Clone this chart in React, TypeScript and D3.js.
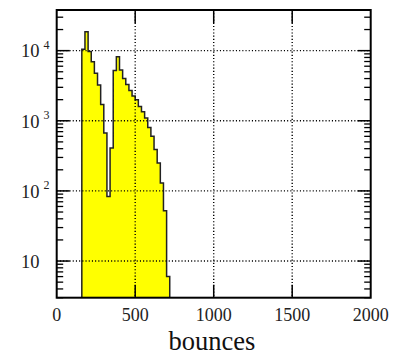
import React from "react";
import * as d3 from "d3";

// Histogram bins (lower edges, width 20) and counts
const binLows = [160, 180, 200, 220, 240, 260, 280, 300, 320, 340, 360, 380, 400, 420, 440, 460, 480, 500, 520, 540, 560, 580, 600, 620, 640, 660, 680, 700];
const counts = [10500, 18600, 9700, 6950, 4770, 3240, 1700, 670, 83, 410, 5200, 8200, 5300, 4000, 3300, 2700, 2250, 2000, 1600, 1350, 1100, 800, 600, 390, 250, 130, 52, 6];
const binWidth = 20;
const xTicks = [0, 500, 1000, 1500, 2000];
const yMajor = [10, 100, 1000, 10000];
const yLabelExp = ["", "2", "3", "4"];
const xTitle = "bounces";

const W = 402, H = 356;
const L = 56.7, R = 370.7, T = 10, B = 297.7;

export default function App() {
  const x = d3.scaleLinear().domain([0, 2000]).range([L, R]);
  const y = d3.scaleLog().domain([3, 38000]).range([B, T]);

  // Build step path
  let d = "";
  binLows.forEach((lo, i) => {
    const x0 = x(lo), x1 = x(lo + binWidth);
    const yy = y(Math.max(counts[i], 3));
    if (i === 0) d += `M${x0},${B}L${x0},${yy}`;
    else d += `L${x0},${yy}`;
    d += `L${x1},${yy}`;
    if (i === binLows.length - 1) d += `L${x1},${B}`;
  });
  const fillD = d + "Z";

  const minor: number[] = [];
  for (let e = 0; e <= 4; e++) {
    for (let m = 2; m <= 9; m++) {
      const v = m * Math.pow(10, e);
      if (v >= 3 && v <= 38000) minor.push(v);
    }
  }
  const font = "'Liberation Serif', 'Times New Roman', serif";

  return (
    <svg width={W} height={H} style={{ position: "absolute", left: 0, top: 0, background: "#fff" }}>
      <rect x={0} y={0} width={W} height={H} fill="#fff" />
      <path d={fillD} fill="#ffff00" stroke="none" />
      <path d={d} fill="none" stroke="#222" strokeWidth={1.5} />
      {/* grid */}
      {xTicks.slice(1, -1).map((v) => (
        <line key={"gx" + v} x1={x(v)} x2={x(v)} y1={T} y2={B} stroke="#000" strokeWidth={1.4} strokeDasharray="1.1,2.1" />
      ))}
      {yMajor.map((v) => (
        <line key={"gy" + v} x1={L} x2={R} y1={y(v)} y2={y(v)} stroke="#000" strokeWidth={1.4} strokeDasharray="1.1,2.1" />
      ))}
      {/* x ticks */}
      {xTicks.slice(1, -1).map((v) => (
        <g key={"xt" + v}>
          <line x1={x(v)} x2={x(v)} y1={B} y2={B - 13} stroke="#000" strokeWidth={1.5} />
          <line x1={x(v)} x2={x(v)} y1={T} y2={T + 13} stroke="#000" strokeWidth={1.5} />
        </g>
      ))}
      {/* y ticks */}
      {yMajor.map((v) => (
        <g key={"yt" + v}>
          <line x1={L} x2={L + 13} y1={y(v)} y2={y(v)} stroke="#000" strokeWidth={1.5} />
          <line x1={R} x2={R - 13} y1={y(v)} y2={y(v)} stroke="#000" strokeWidth={1.5} />
        </g>
      ))}
      {minor.map((v) => (
        <g key={"ym" + v}>
          <line x1={L} x2={L + 6.5} y1={y(v)} y2={y(v)} stroke="#000" strokeWidth={1.3} />
          <line x1={R} x2={R - 6.5} y1={y(v)} y2={y(v)} stroke="#000" strokeWidth={1.3} />
        </g>
      ))}
      {/* frame */}
      <rect x={L} y={T} width={R - L} height={B - T} fill="none" stroke="#000" strokeWidth={2} />
      {/* x labels */}
      {xTicks.map((v) => (
        <text key={"xl" + v} x={x(v)} y={320.5} textAnchor="middle" fontFamily={font} fontSize={18} fill="#222">
          {v}
        </text>
      ))}
      {/* y labels */}
      {yMajor.map((v, i) => (
        <g key={"yl" + v}>
          <text x={21} y={y(v) + 6.8} fontFamily={font} fontSize={18.5} fill="#222">10</text>
          {yLabelExp[i] && (
            <text x={43.5} y={y(v) - 1.5} fontFamily={font} fontSize={12} fill="#222">{yLabelExp[i]}</text>
          )}
        </g>
      ))}
      <text x={212} y={350} textAnchor="middle" fontFamily={font} fontSize={26.5} fill="#111">{xTitle}</text>
    </svg>
  );
}
